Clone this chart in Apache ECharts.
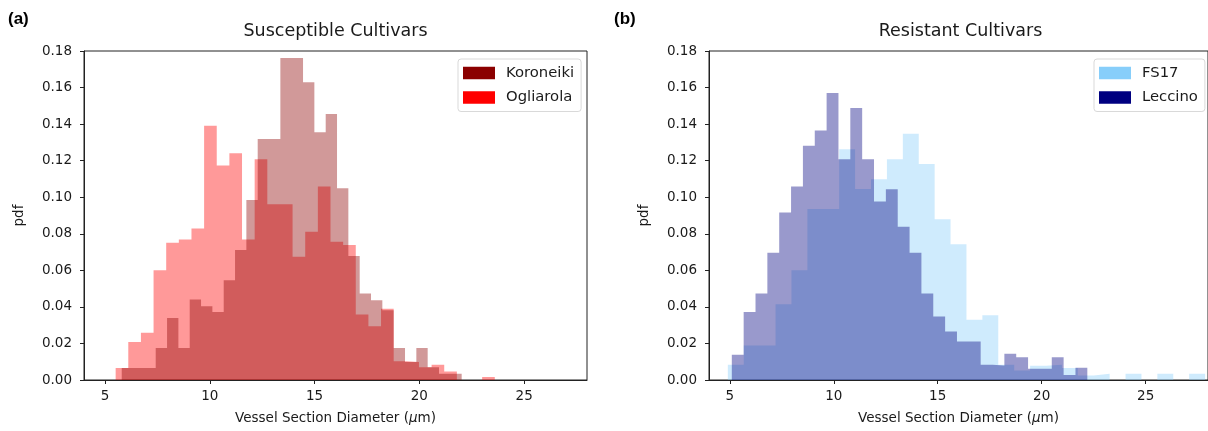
<!DOCTYPE html>
<html>
<head>
<meta charset="utf-8">
<script src="https://cdn.jsdelivr.net/npm/echarts@6/dist/echarts.min.js"></script>
<style>
html, body { margin: 0; padding: 0; background: #fff; }
#chart { width: 1208px; height: 431px; }
</style>
</head>
<body>
<div id="chart"></div>
<script>
// histogram data: [first bin edge, last bin edge] and pdf value of each of the 30 bins
var koroneikiRange = [5.80, 22.02];
var koroneikiPdf = [0.0065, 0.0065, 0.0065, 0.0175, 0.0339, 0.0175, 0.0440, 0.0403, 0.0372, 0.0546,
    0.0711, 0.0985, 0.1318, 0.1318, 0.1762, 0.1762, 0.1629, 0.1356, 0.1455, 0.1049,
    0.0679, 0.0473, 0.0436, 0.0381, 0.0175, 0.0098, 0.0175, 0.0070, 0.0034, 0.0034];

var ogliarolaRange = [5.51, 23.60];
var ogliarolaPdf = [0.0065, 0.0208, 0.0259, 0.0601, 0.0751, 0.0769, 0.0829, 0.1391, 0.1173, 0.1241,
    0.0769, 0.1208, 0.0961, 0.0961, 0.0674, 0.0811, 0.1058, 0.0756, 0.0738, 0.0358,
    0.0294, 0.0390, 0.0102, 0.0098, 0.0070, 0.0083, 0.0047, 0, 0, 0.0016];

var fs17Range = [4.906, 27.86];
var fs17Pdf = [0.0083, 0.0189, 0.0189, 0.0414, 0.0601, 0.0936, 0.0936, 0.1263, 0.1045, 0.1098,
    0.1208, 0.1347, 0.1182, 0.0879, 0.0743, 0.0330, 0.0354, 0.0083, 0.0052, 0.0078,
    0.0083, 0.0065, 0.0025, 0.0034, 0, 0.0034, 0, 0.0034, 0, 0.0034];

var leccinoRange = [5.097, 22.196];
var leccinoPdf = [0.0138, 0.0372, 0.0473, 0.0696, 0.0917, 0.1058, 0.1281, 0.1365, 0.1570, 0.1208,
    0.1488, 0.1208, 0.0976, 0.1043, 0.0839, 0.0696, 0.0473, 0.0348, 0.0266, 0.0211,
    0.0211, 0.0083, 0.0080, 0.0144, 0.0125, 0.0061, 0.0061, 0.0125, 0.0028, 0.0067];

var xTicks = [5, 10, 15, 20, 25];
var xRange = [4, 28];
var yMax = 0.18;
var yStep = 0.02;

var FONT = 'DejaVu Sans';
var INK = '#1a1a1a';

// equal-width bins -> points for a step line (step: 'end')
function steps(range, pdf) {
    var w = (range[1] - range[0]) / pdf.length;
    var pts = [];
    for (var i = 0; i < pdf.length; i++) {
        pts.push([range[0] + i * w, pdf[i]]);
    }
    pts.push([range[1], pdf[pdf.length - 1]]);
    return pts;
}

function hist(name, range, pdf, color, idx) {
    return {
        name: name,
        type: 'line',
        step: 'end',
        xAxisIndex: idx,
        yAxisIndex: idx,
        data: steps(range, pdf),
        symbol: 'none',
        showSymbol: false,
        silent: true,
        lineStyle: { width: 0, opacity: 0 },
        itemStyle: { color: color },
        areaStyle: { color: color, opacity: 0.4 }
    };
}

function xAxis(idx) {
    return {
        type: 'value',
        gridIndex: idx,
        min: xRange[0],
        max: xRange[1],
        axisLine: { show: true, lineStyle: { color: '#222', width: 1 } },
        axisTick: { show: true, customValues: xTicks, length: 4, lineStyle: { color: '#222' } },
        axisLabel: { customValues: xTicks, margin: 9, fontFamily: FONT, fontSize: 13.5, color: INK },
        splitLine: { show: false },
        name: 'Vessel Section Diameter ({i|\u03bc}m)',
        nameLocation: 'middle',
        nameGap: 31,
        nameTextStyle: {
            fontFamily: FONT, fontSize: 13.5, color: INK,
            rich: { i: { fontFamily: FONT, fontSize: 13.5, fontStyle: 'italic', color: INK } }
        }
    };
}

function yAxis(idx) {
    return {
        type: 'value',
        gridIndex: idx,
        min: 0,
        max: yMax,
        interval: yStep,
        axisLine: { show: true, lineStyle: { color: '#222', width: 1 } },
        axisTick: { show: true, length: 4, lineStyle: { color: '#222' } },
        axisLabel: {
            margin: 12, fontFamily: FONT, fontSize: 13.5, color: INK,
            formatter: function (v) { return v.toFixed(2); }
        },
        splitLine: { show: false },
        name: 'pdf',
        nameLocation: 'middle',
        nameGap: 58,
        nameTextStyle: { fontFamily: FONT, fontSize: 13.5, color: INK }
    };
}

function legend(items, left) {
    return {
        data: items,
        orient: 'vertical',
        left: left,
        top: 59,
        icon: 'rect',
        itemWidth: 32,
        itemHeight: 12.5,
        itemGap: 9.5,
        padding: [6.5, 7, 6.5, 5],
        borderColor: '#d9d9d9',
        borderWidth: 1,
        borderRadius: 3,
        selectedMode: false,
        textStyle: { fontFamily: FONT, fontSize: 14.8, color: INK, lineHeight: 13, padding: [0, 0, 0, 6] }
    };
}

var chart = echarts.init(document.getElementById('chart'), null, { renderer: 'canvas' });

var option = {
    animation: false,
    backgroundColor: '#fff',
    grid: [
        { left: 84, top: 51, width: 503, height: 329, show: true, borderColor: '#222', borderWidth: 1 },
        { left: 709, top: 51, width: 503, height: 329, show: true, borderColor: '#222', borderWidth: 1 }
    ],
    xAxis: [xAxis(0), xAxis(1)],
    yAxis: [yAxis(0), yAxis(1)],
    legend: [
        legend([{ name: 'Koroneiki', itemStyle: { color: '#8b0000' } },
                { name: 'Ogliarola', itemStyle: { color: '#ff0000' } }], 458),
        legend([{ name: 'FS17', itemStyle: { color: '#87cefa' } },
                { name: 'Leccino', itemStyle: { color: '#000080' } }], 1094)
    ],
    graphic: [
        { type: 'text', x: 8, y: 19, style: { text: '(a)', fontFamily: 'Liberation Sans', fontWeight: 'bold', fontSize: 17, fill: '#000', textVerticalAlign: 'middle' } },
        { type: 'text', x: 614, y: 19, style: { text: '(b)', fontFamily: 'Liberation Sans', fontWeight: 'bold', fontSize: 17, fill: '#000', textVerticalAlign: 'middle' } },
        { type: 'text', x: 335.5, y: 31, style: { text: 'Susceptible Cultivars', fontFamily: FONT, fontSize: 17.5, fill: INK, textAlign: 'center', textVerticalAlign: 'middle' } },
        { type: 'text', x: 960.5, y: 31, style: { text: 'Resistant Cultivars', fontFamily: FONT, fontSize: 17.5, fill: INK, textAlign: 'center', textVerticalAlign: 'middle' } }
    ],
    series: [
        hist('Ogliarola', ogliarolaRange, ogliarolaPdf, '#ff0000', 0),
        hist('Koroneiki', koroneikiRange, koroneikiPdf, '#8b0000', 0),
        hist('FS17', fs17Range, fs17Pdf, '#87cefa', 1),
        hist('Leccino', leccinoRange, leccinoPdf, '#000080', 1)
    ]
};

chart.setOption(option);
</script>
</body>
</html>
